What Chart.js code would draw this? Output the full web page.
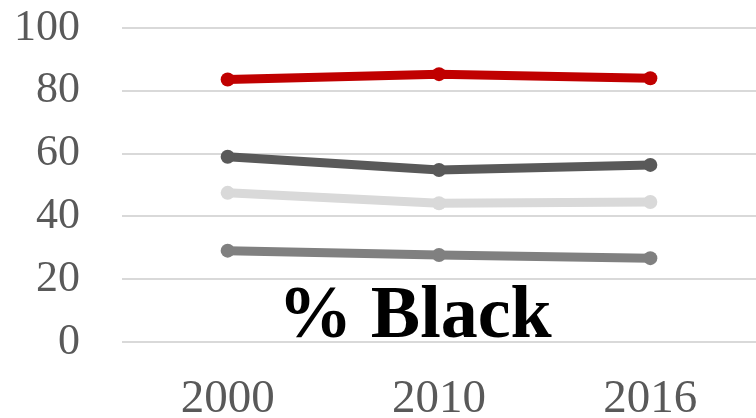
<!DOCTYPE html>
<html>
<head>
<meta charset="utf-8">
<script src="https://cdn.jsdelivr.net/npm/chart.js@4/dist/chart.umd.min.js"></script>
<style>
  html, body { margin: 0; padding: 0; background: #fff; overflow: hidden; }
  #wrap { width: 756px; height: 418px; position: relative; }
</style>
</head>
<body>
<div id="wrap"><canvas id="blackChart"></canvas></div>
<script>
// 年份與各組數值
const years = ['2000', '2010', '2016'];
const redSeries = [83.6, 85.3, 84.0];
const darkSeries = [59.0, 54.8, 56.4];
const lightSeries = [47.5, 44.2, 44.6];
const midSeries = [29.1, 27.7, 26.7];
const yTicks = [0, 20, 40, 60, 80, 100];

const serif = '"Liberation Serif", "Times New Roman", serif';

// 圖內標題
const innerTitle = {
  id: 'innerTitle',
  afterDatasetsDraw(chart) {
    const ctx = chart.ctx;
    ctx.save();
    ctx.font = 'bold 74px ' + serif;
    ctx.fillStyle = '#000';
    ctx.textAlign = 'center';
    ctx.textBaseline = 'alphabetic';
    ctx.fillText('% Black', 415, 337);
    ctx.restore();
  }
};

function line(data, color) {
  return {
    data: data,
    borderColor: color,
    backgroundColor: color,
    borderWidth: 9,
    pointRadius: 7,
    pointHoverRadius: 7,
    pointBorderWidth: 0,
    fill: false,
    tension: 0
  };
}

const ctx = document.getElementById('blackChart').getContext('2d');
new Chart(ctx, {
  type: 'line',
  data: {
    labels: years,
    datasets: [
      line(midSeries, '#808080'),
      line(lightSeries, '#D9D9D9'),
      line(darkSeries, '#595959'),
      line(redSeries, '#C00000')
    ]
  },
  options: {
    responsive: true,
    maintainAspectRatio: false,
    animation: false,
    layout: { autoPadding: false, padding: { top: 28, right: 0, bottom: 0, left: 0 } },
    plugins: {
      legend: { display: false },
      tooltip: { enabled: false },
      title: { display: false }
    },
    scales: {
      x: {
        offset: true,
        grid: { display: false, drawTicks: false },
        border: { display: false },
        ticks: {
          color: '#595959',
          font: { family: serif, size: 47 },
          padding: 29,
          autoSkip: false,
          maxRotation: 0
        },
        afterFit(scale) {
          scale.height = 76;
          scale.paddingLeft = 0;
          scale.paddingRight = 0;
        }
      },
      y: {
        min: 0,
        max: 100,
        afterBuildTicks(scale) { scale.ticks = yTicks.map(v => ({ value: v })); },
        grid: { color: '#D9D9D9', lineWidth: 2, drawTicks: false },
        border: { display: false },
        ticks: {
          color: '#595959',
          font: { family: serif, size: 44 },
          padding: 42,
          autoSkip: false
        },
        afterFit(scale) {
          scale.width = 122;
          scale.paddingTop = 0;
          scale.paddingBottom = 0;
        }
      }
    }
  },
  plugins: [innerTitle]
});
</script>
</body>
</html>
